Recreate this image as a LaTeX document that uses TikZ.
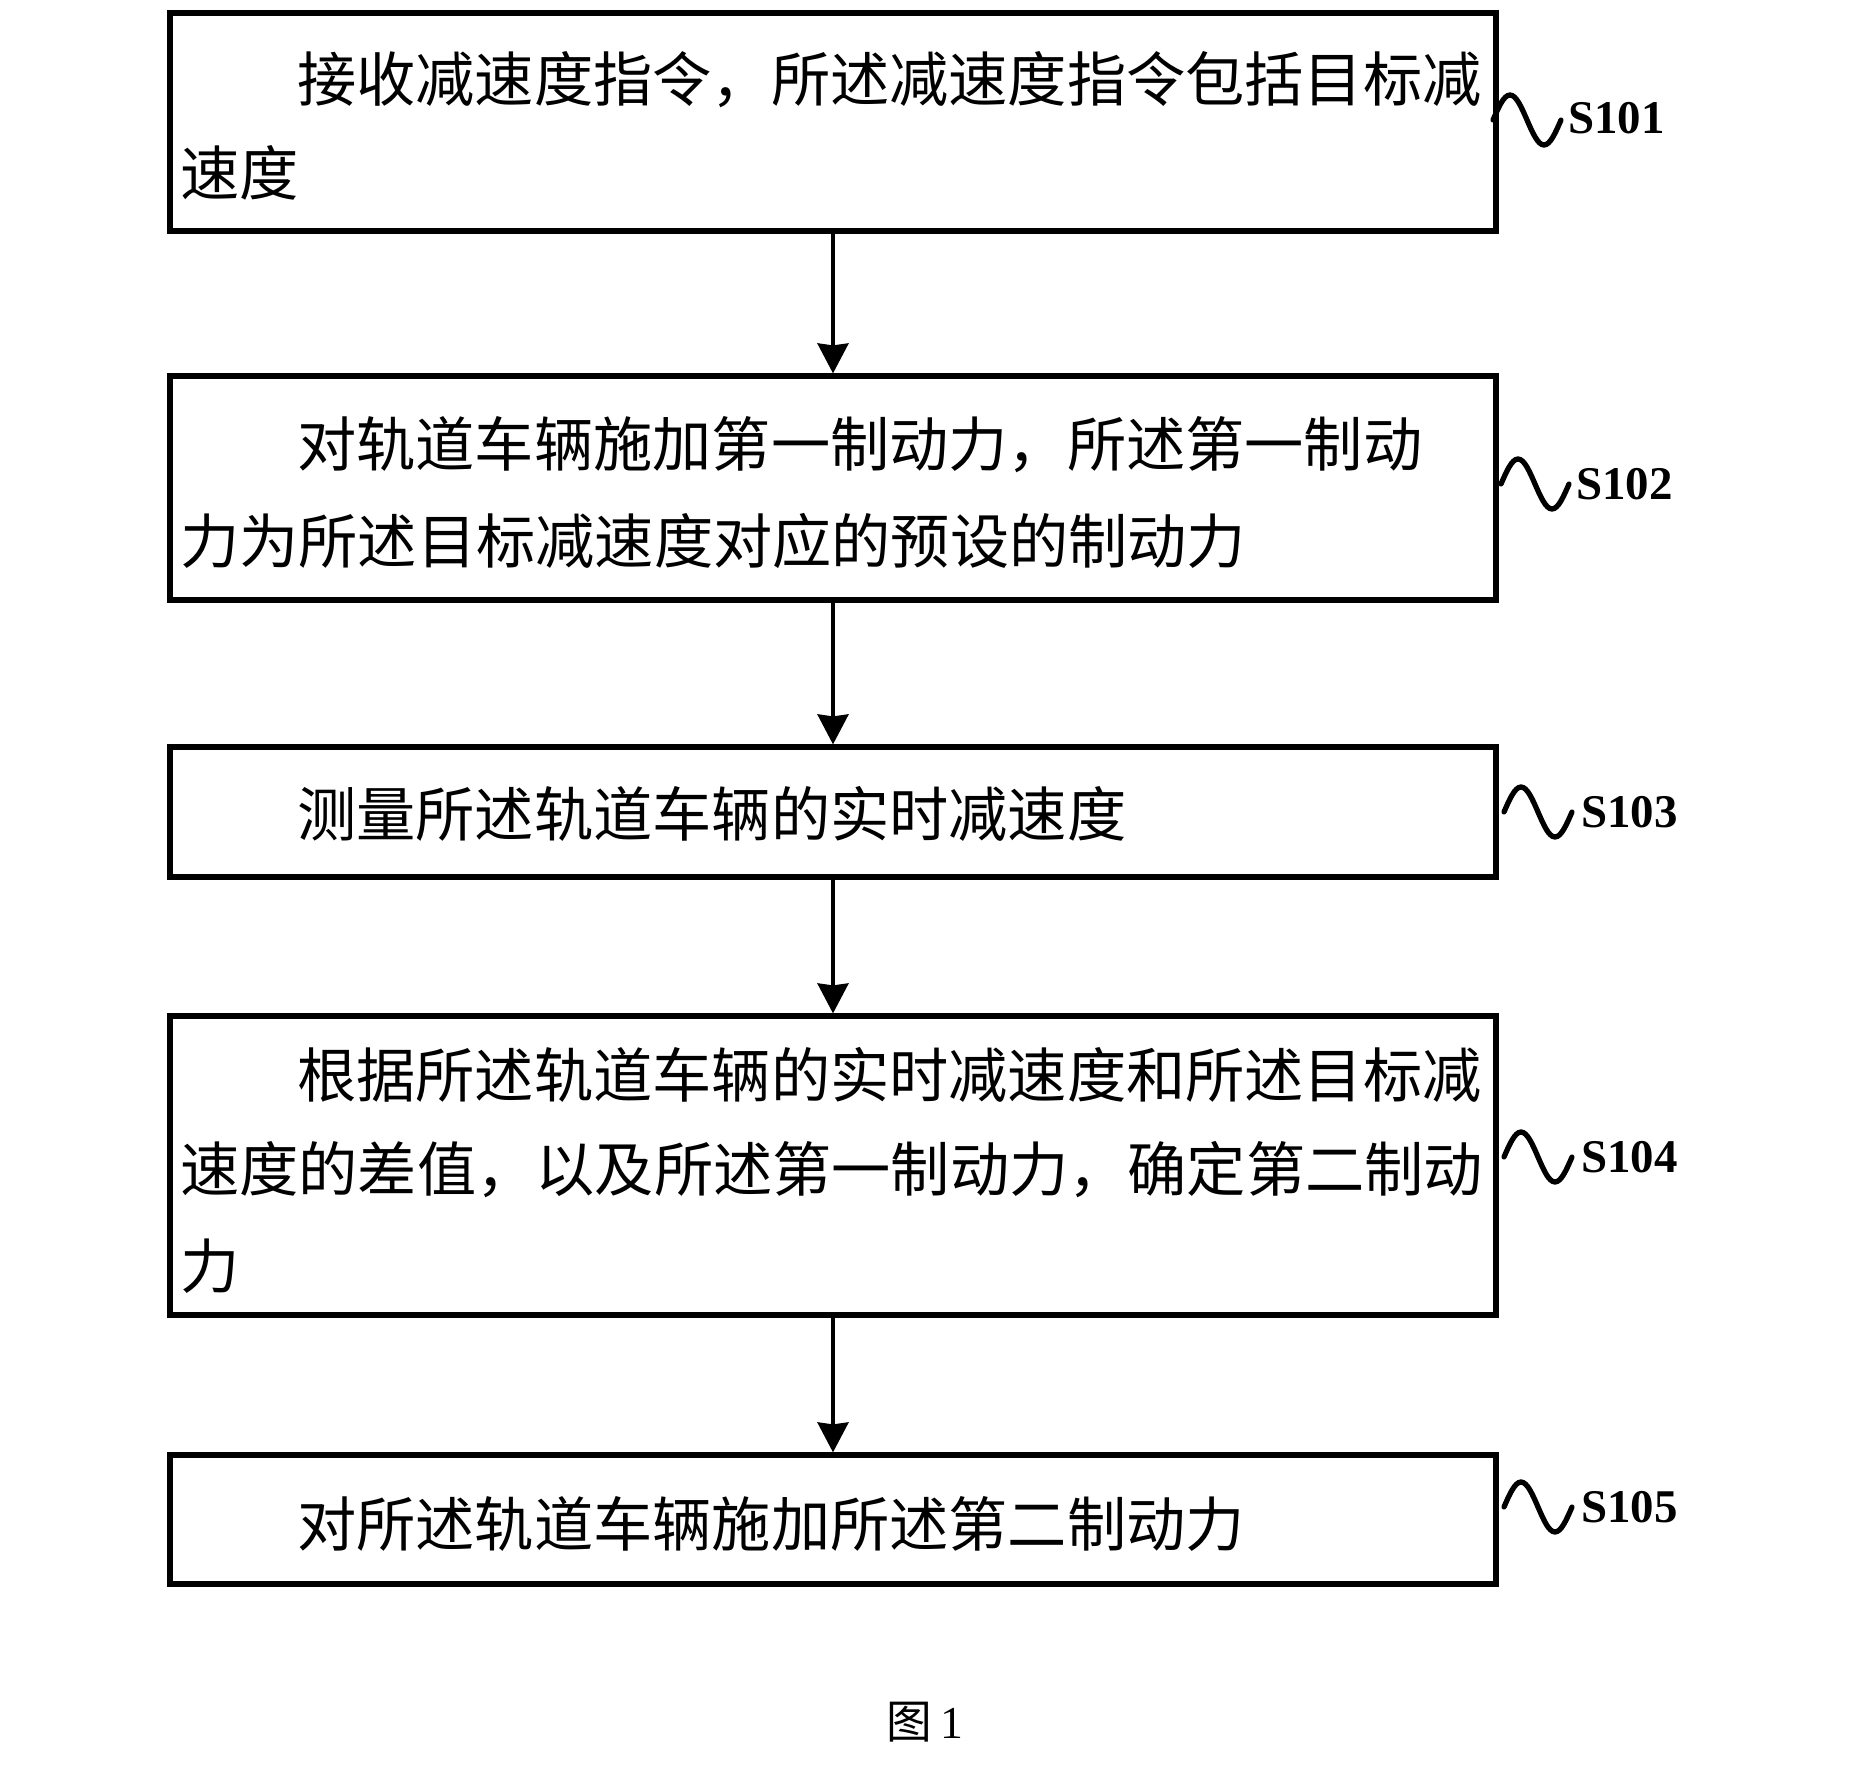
\documentclass[tikz,border=0pt]{standalone}
\usepackage{fontspec}
\setmainfont{Liberation Serif}
\newfontfamily\cjk{Noto Sans CJK SC}
\usetikzlibrary{arrows.meta}
\begin{document}
\begin{tikzpicture}[x=0.02cm,y=-0.02cm,
  stepbox/.style={draw=black, line width=3pt, minimum width=26.52cm, inner sep=0pt, fill=none},
  txt/.style={anchor=west, inner sep=0pt, font=\cjk\fontsize{33.7}{40}\selectfont},
  lab/.style={anchor=west, inner sep=0pt, font=\fontsize{26.7}{30}\selectfont\bfseries},
  squig/.style={line width=3pt, line cap=round},
  flow/.style={line width=2pt, -{Stealth[length=0.6cm, width=0.62cm, inset=0.04cm]}}]
\useasboundingbox (0,0) rectangle (1850,1777);
\fill[white] (0,0) rectangle (1850,1777);

% boxes
\node[stepbox, minimum height=4.36cm] (b1) at (833,122) {};
\node[stepbox, minimum height=4.48cm] (b2) at (833,488) {};
\node[stepbox, minimum height=2.6cm] (b3) at (833,812) {};
\node[stepbox, minimum height=5.98cm] (b4) at (833,1165.5) {};
\node[stepbox, minimum height=2.58cm] (b5) at (833,1519.5) {};

% texts
\node[txt] (t1a) at (297,80) {接收减速度指令，所述减速度指令包括目标减};
\node[txt] (t1b) at (180,173) {速度};
\node[txt] (t2a) at (297,445) {对轨道车辆施加第一制动力，所述第一制动};
\node[txt] (t2b) at (180,541) {力为所述目标减速度对应的预设的制动力};
\node[txt] (t3a) at (297,814) {测量所述轨道车辆的实时减速度};
\node[txt] (t4a) at (297,1075) {根据所述轨道车辆的实时减速度和所述目标减};
\node[txt] (t4b) at (180,1170) {速度的差值，以及所述第一制动力，确定第二制动};
\node[txt] (t4c) at (180,1266) {力};
\node[txt] (t5a) at (297,1524) {对所述轨道车辆施加所述第二制动力};

% connectors
\draw[flow] (b1.south) -- (b2.north);
\draw[flow] (b2.south) -- (b3.north);
\draw[flow] (b3.south) -- (b4.north);
\draw[flow] (b4.south) -- (b5.north);

% step labels
\coordinate (q1) at (1493,120);
\coordinate (q2) at (1501,484);
\coordinate (q3) at (1504,812);
\coordinate (q4) at (1504,1157);
\coordinate (q5) at (1504,1507);
\foreach \q in {q1,q2,q3,q4,q5}{
  \draw[squig] (\q) sin ++(17,-25) cos ++(17,25) sin ++(17,25) cos ++(17,-25);
}
\node[lab] (l1) at (1568,118) {S101};
\node[lab] (l2) at (1576,484) {S102};
\node[lab] (l3) at (1581,812) {S103};
\node[lab] (l4) at (1581,1157) {S104};
\node[lab] (l5) at (1581,1507) {S105};

% caption
\node[inner sep=0pt, font=\fontsize{26}{30}\selectfont] (cap) at (925,1722) {{\cjk 图}\hspace{0.2em}1};
\end{tikzpicture}
\end{document}
